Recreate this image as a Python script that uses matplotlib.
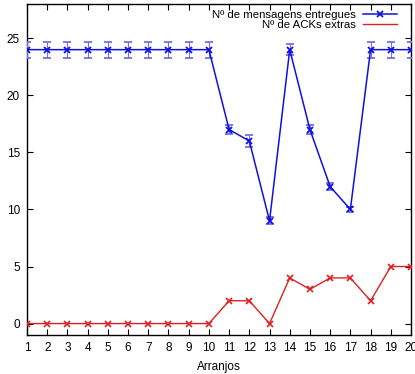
import numpy as np
import matplotlib
matplotlib.use('Agg')
from matplotlib import pyplot as plt
from matplotlib.lines import Line2D

# arranjos 1..20
arranjos = list(range(1, 21))
# mensagens entregues (media) e erro
entregues = [24, 24, 24, 24, 24, 24, 24, 24, 24, 24, 17, 16, 9, 24, 17, 12, 10, 24, 24, 24]
erro_entregues = [0.7, 0.7, 0.7, 0.7, 0.7, 0.7, 0.7, 0.7, 0.7, 0.7,
                  0.4, 0.5, 0.3, 0.5, 0.4, 0.3, 0.2, 0.7, 0.7, 0.7]
# ACKs extras
acks_extras = [0, 0, 0, 0, 0, 0, 0, 0, 0, 0, 2, 2, 0, 4, 3, 4, 4, 2, 5, 5]
yticks = [0, 5, 10, 15, 20, 25]

plt.rcParams['font.family'] = ['Liberation Sans', 'DejaVu Sans']
plt.rcParams['font.size'] = 8

fig = plt.figure(figsize=(4.15, 3.74), dpi=100)
ax = fig.add_axes([27 / 415, 1 - 335 / 374, (411 - 27) / 415, (335 - 4) / 374])

ax.errorbar(arranjos, entregues, yerr=erro_entregues, color='#1010e0', lw=1.1,
            marker='x', ms=5, mew=1.3, ecolor='#7070ee', elinewidth=0.8, capsize=3,
            capthick=0.8, zorder=3)
ax.plot(arranjos, acks_extras, color='#e02020', lw=1.0, marker='x', ms=4.5, mew=1.2, zorder=3)

ax.set_xlim(1, 20)
ax.set_ylim(-1, 28)
ax.set_xticks(arranjos)
ax.set_yticks(yticks)
ax.tick_params(direction='in', top=True, right=True, length=4, width=0.8, pad=5, labelsize=8.5)
for s in ax.spines.values():
    s.set_linewidth(1.0)
ax.set_xlabel('Arranjos', fontsize=8.5, labelpad=5)

handles = [Line2D([], [], color='#1010e0', lw=1.1, marker='x', ms=5, mew=1.3),
           Line2D([], [], color='#e02020', lw=1.0)]
ax.legend(handles, ['Nº de mensagens entregues', 'Nº de ACKs extras'], loc='upper right',
          bbox_to_anchor=(1 - 6 / 384, 1 + 2 / 331),
          markerfirst=False, frameon=False, fontsize=8.2, handlelength=3.0,
          labelspacing=0.0, borderaxespad=0.3, handletextpad=0.6)

fig.savefig('out.png', dpi=100)
